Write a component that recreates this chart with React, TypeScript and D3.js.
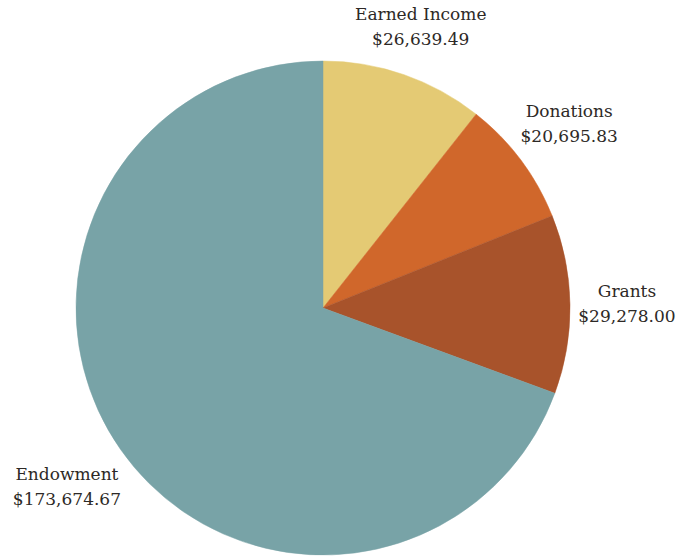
import * as d3 from "d3";
import { useEffect, useRef } from "react";

const categories = ["Earned Income", "Donations", "Grants", "Endowment"];
const amounts = [26639.49, 20695.83, 29278.0, 173674.67];
const colors = ["#E4CA74", "#D0672B", "#A8532B", "#78A3A7"];

const WIDTH = 680;
const HEIGHT = 556;
const CX = 323;
const CY = 308;
const RADIUS = 247;
const LABEL_GAP = 8;
const LINE_HEIGHT = 25;

const formatMoney = (v: number) => "$" + d3.format(",.2f")(v);

export default function App() {
  const svgRef = useRef<SVGSVGElement | null>(null);

  useEffect(() => {
    if (!svgRef.current) return;
    const svg = d3.select(svgRef.current);
    svg.selectAll("*").remove();

    const data = categories.map((name, i) => ({ name, value: amounts[i], color: colors[i] }));

    const pie = d3
      .pie<{ name: string; value: number; color: string }>()
      .value((d) => d.value)
      .sort(null);
    const arc = d3
      .arc<d3.PieArcDatum<{ name: string; value: number; color: string }>>()
      .innerRadius(0)
      .outerRadius(RADIUS);

    const arcs = pie(data);
    const g = svg.append("g").attr("transform", `translate(${CX},${CY})`);

    g.selectAll("path")
      .data(arcs)
      .join("path")
      .attr("d", arc)
      .attr("fill", (d) => d.data.color)
      .attr("stroke", (d) => d.data.color)
      .attr("stroke-width", 0.5);

    // labels: two lines, pushed out so the box clears the rim
    const labels = g
      .selectAll("g.label")
      .data(arcs)
      .join("g")
      .attr("class", "label");

    labels
      .append("text")
      .attr("text-anchor", "middle")
      .attr("font-family", "'DejaVu Serif', serif")
      .attr("font-size", 17)
      .attr("fill", "#2d2926")
      .call((t) =>
        t
          .selectAll("tspan")
          .data((d) => [d.data.name, formatMoney(d.data.value)])
          .join("tspan")
          .attr("x", 0)
          .attr("y", (_, i) => i * LINE_HEIGHT)
          .text((s) => s)
      );

    labels.each(function (d) {
      const text = d3.select(this).select<SVGTextElement>("text");
      const box = text.node()!.getBBox();
      const mid = (d.startAngle + d.endAngle) / 2;
      const ux = Math.sin(mid);
      const uy = -Math.cos(mid);
      const dist =
        RADIUS + LABEL_GAP + Math.abs(ux) * (box.width / 2) + Math.abs(uy) * (box.height / 2);
      text.attr(
        "transform",
        `translate(${ux * dist - (box.x + box.width / 2)},${uy * dist - (box.y + box.height / 2)})`
      );
    });
  }, []);

  return (
    <svg
      ref={svgRef}
      width={WIDTH}
      height={HEIGHT}
      style={{ position: "absolute", left: 0, top: 0, background: "#fff" }}
    />
  );
}
